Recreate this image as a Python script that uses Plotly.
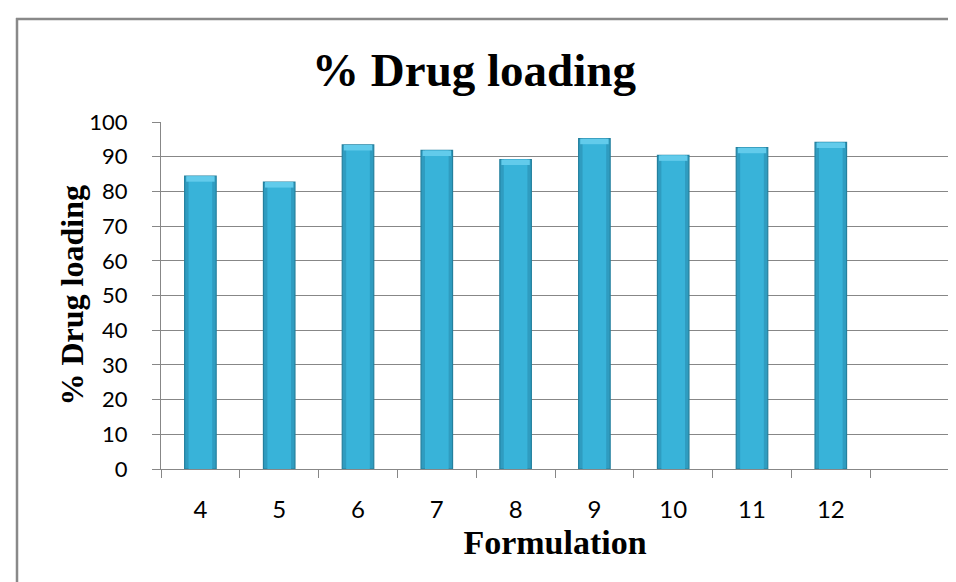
import plotly.graph_objects as go

# Data
formulations = ["4", "5", "6", "7", "8", "9", "10", "11", "12"]
drug_loading = [84.4, 82.7, 93.4, 91.8, 89.2, 95.2, 90.4, 92.6, 94.1]
category_slots = formulations + [" "]  # empty trailing slot as in the reference
y_ticks = list(range(0, 101, 10))

W, H = 956, 582
L, R, T, B = 153, 15, 114, 121
PW, PH = W - L - R, H - T - B

def px_x(px):
    return (px - L) / PW

def px_y(py):
    return (H - B - py) / PH

fig = go.Figure()
# outer (darker) body of each bar
fig.add_trace(go.Bar(
    x=formulations, y=drug_loading, width=0.4,
    marker=dict(color="#2F9CC0", line=dict(color="#24809E", width=1.2)),
    hoverinfo="skip",
))
# lighter inner body for a rounded / 3D look
fig.add_trace(go.Bar(
    x=formulations, y=drug_loading, width=0.3,
    marker=dict(color="#38B3D9", line=dict(width=0)),
))
# light bevel at the top of each bar
cap = 1.6
fig.add_trace(go.Bar(
    x=formulations, y=[cap] * len(drug_loading),
    base=[v - cap for v in drug_loading], width=0.36,
    marker=dict(color="#62CBEB", line=dict(width=0)),
    hoverinfo="skip",
))

grey = "#878787"
fig.update_layout(
    width=W, height=H,
    margin=dict(l=L, r=R, t=T, b=B),
    paper_bgcolor="white", plot_bgcolor="white",
    showlegend=False, barmode="overlay",
    title=dict(text="<b>% Drug loading</b>", x=466 / W, xref="container", xanchor="center",
               y=1 - 62 / H, yref="container", yanchor="middle",
               font=dict(family="Liberation Serif", size=47, color="black")),
    xaxis=dict(
        type="category", categoryorder="array", categoryarray=category_slots,
        range=[-0.5, len(category_slots) - 0.5],
        tickson="boundaries", ticks="outside", ticklen=8, tickcolor=grey,
        showline=True, linecolor=grey, linewidth=1, showgrid=False,
        tickfont=dict(family="Lato", size=24, color="black"),
        ticklabelstandoff=19,
        title=dict(text="<b>Formulation</b>", standoff=8,
                   font=dict(family="Liberation Serif", size=34, color="black")),
    ),
    yaxis=dict(
        range=[0, 100], tickvals=y_ticks, ticks="outside", ticklen=8, tickcolor=grey,
        showline=True, linecolor=grey, linewidth=1,
        showgrid=True, gridcolor=grey, gridwidth=1, zeroline=False,
        tickfont=dict(family="Lato", size=22, color="black"),
        ticklabelstandoff=20,
    ),
    annotations=[
        dict(text="<b>% Drug loading</b>", xref="paper", yref="paper",
             x=-90 / PW, y=0.5, xanchor="center", yanchor="middle",
             textangle=-90, showarrow=False,
             font=dict(family="Liberation Serif", size=32, color="black")),
    ],
    shapes=[
        dict(type="line", xref="paper", yref="paper", x0=px_x(8), x1=px_x(970),
             y0=px_y(11), y1=px_y(11), line=dict(color="#898989", width=2.5)),
        dict(type="line", xref="paper", yref="paper", x0=px_x(9), x1=px_x(9),
             y0=px_y(10), y1=px_y(600), line=dict(color="#898989", width=2.5)),
    ],
)

fig.write_html("out.html")
